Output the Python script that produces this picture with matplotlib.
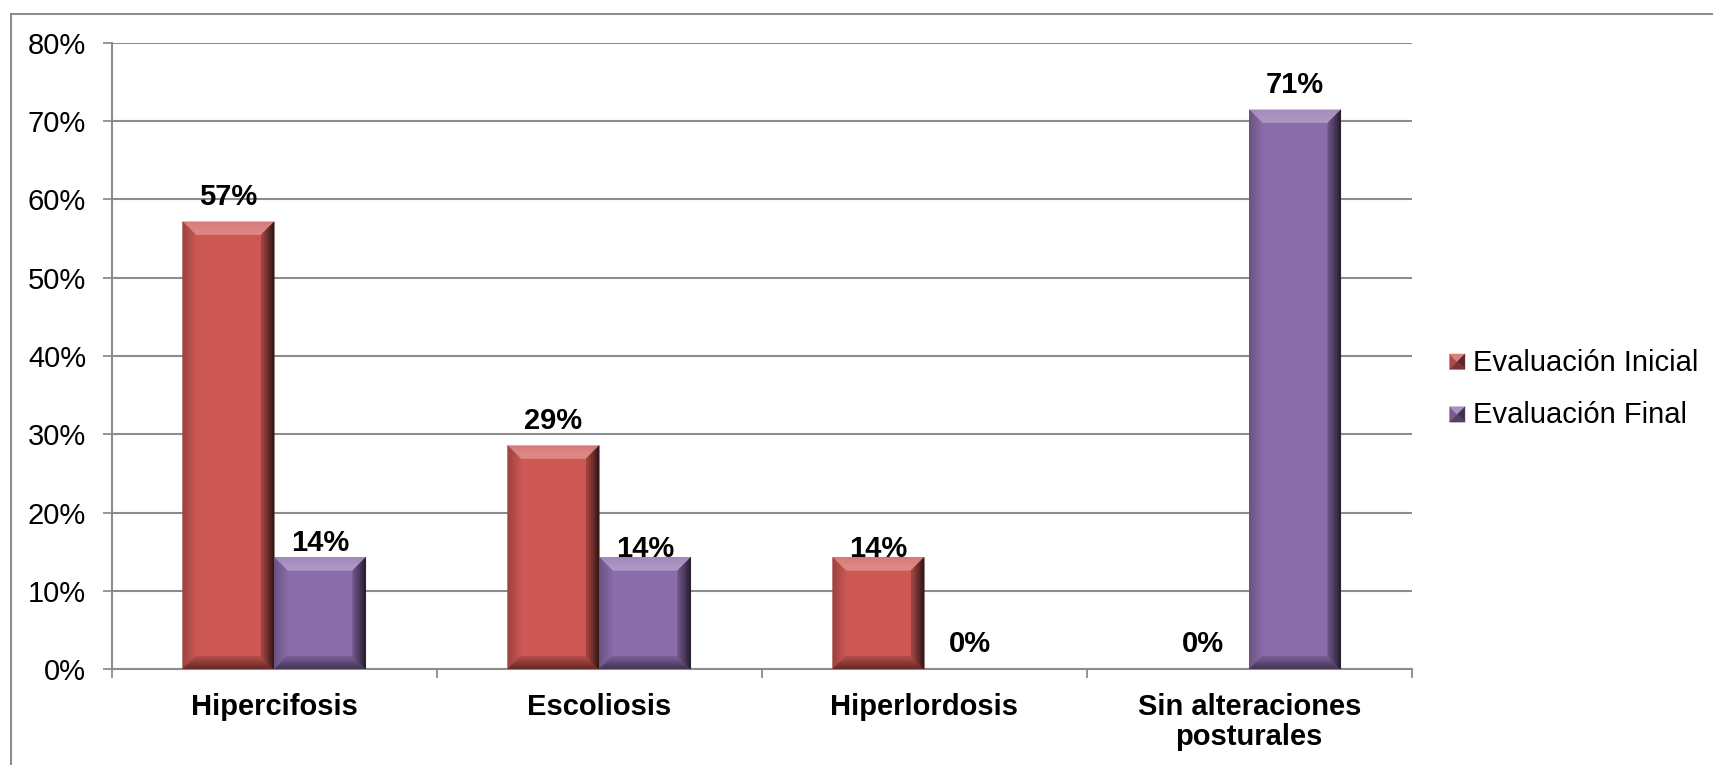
import numpy as np
import matplotlib
matplotlib.use("Agg")
import matplotlib.pyplot as plt
from matplotlib.patches import Polygon, Patch
from matplotlib.lines import Line2D
from matplotlib.legend_handler import HandlerBase
from matplotlib.colors import to_rgb

plt.rcParams['font.family'] = ['Liberation Sans', 'DejaVu Sans']

# datos (porcentaje de alumnos)
categorias = ["Hipercifosis", "Escoliosis", "Hiperlordosis", "Sin alteraciones\nposturales"]
series = ["Evaluación Inicial", "Evaluación Final"]
inicial = [57.14, 28.57, 14.29, 0.0]
final = [14.29, 14.29, 0.0, 71.43]
yticks = [0, 10, 20, 30, 40, 50, 60, 70, 80]

colores = ["#CD5753", "#8A6CAA"]
GRIS = "#8C8C8C"
ANCHO = 0.282       # ancho de cada barra
BISEL = 13          # bisel en pixeles
# separacion en px entre la barra y la linea base de su etiqueta
sep_ini = [17, 17, 0, 17]
sep_fin = [6, 0, 17, 17]

W, H = 1713, 765
fig = plt.figure(figsize=(W / 100, H / 100), dpi=100)
ax = fig.add_axes([111.7 / W, (H - 669.3) / H, 1300 / W, (669.3 - 42.7) / H])
ax.set_xlim(-0.5, 3.5)
ax.set_ylim(0, 80)

BLANCO, NEGRO = (1, 1, 1), (0, 0, 0)


def mezcla(c, otro, t):
    c = np.array(to_rgb(c))
    return tuple(c * (1 - t) + np.array(otro) * t)


def bisel(ax, x0, x1, y1, color):
    """barra con bordes biselados (luz arriba, sombra a la derecha y abajo)"""
    # escala pixel -> datos
    p0 = ax.transData.transform((0, 0))
    p1 = ax.transData.transform((1, 10))
    dx = 1 / (p1[0] - p0[0])
    dy = 10 / (p1[1] - p0[1])
    y0 = 0.0
    b = min(BISEL, (x1 - x0) / dx / 2, (y1 - y0) / dy / 2)
    n = 6
    # (lado, color exterior, color interior)
    lados = [
        ("top", mezcla(color, BLANCO, 0.22), mezcla(color, BLANCO, 0.32)),
        ("left", mezcla(color, NEGRO, 0.25), mezcla(color, NEGRO, 0.02)),
        ("bottom", mezcla(color, NEGRO, 0.55), mezcla(color, NEGRO, 0.12)),
        ("right", mezcla(color, NEGRO, 0.78), mezcla(color, NEGRO, 0.2)),
    ]
    for lado, c_out, c_in in lados:
        for i in range(n):
            d0 = b * i / n
            d1 = b * (i + 1) / n
            t = (i + 0.5) / n
            c = tuple(np.array(c_out) * (1 - t) + np.array(c_in) * t)
            if lado == "top":
                pts = [(x0 + d0 * dx, y1 - d0 * dy), (x1 - d0 * dx, y1 - d0 * dy),
                       (x1 - d1 * dx, y1 - d1 * dy), (x0 + d1 * dx, y1 - d1 * dy)]
            elif lado == "bottom":
                pts = [(x0 + d0 * dx, y0 + d0 * dy), (x1 - d0 * dx, y0 + d0 * dy),
                       (x1 - d1 * dx, y0 + d1 * dy), (x0 + d1 * dx, y0 + d1 * dy)]
            elif lado == "left":
                pts = [(x0 + d0 * dx, y0 + d0 * dy), (x0 + d0 * dx, y1 - d0 * dy),
                       (x0 + d1 * dx, y1 - d1 * dy), (x0 + d1 * dx, y0 + d1 * dy)]
            else:
                pts = [(x1 - d0 * dx, y0 + d0 * dy), (x1 - d0 * dx, y1 - d0 * dy),
                       (x1 - d1 * dx, y1 - d1 * dy), (x1 - d1 * dx, y0 + d1 * dy)]
            ax.add_patch(Polygon(pts, closed=True, facecolor=c, edgecolor=c,
                                 lw=0.3, zorder=4))


class CuadroBiselado(HandlerBase):
    """cuadrito de la leyenda con forma de piramide"""
    def create_artists(self, legend, orig, xd, yd, width, height, fontsize, trans):
        color = orig.get_facecolor()
        s = min(width, height) * 1.05
        x0 = xd * -1 + (width - s) / 2
        y0 = yd * -1 + (height - s) / 2 - 1
        cx, cy = x0 + s / 2, y0 + s / 2
        esquinas = [(x0, y0), (x0, y0 + s), (x0 + s, y0 + s), (x0 + s, y0)]
        tonos = [mezcla(color, NEGRO, 0.15), mezcla(color, BLANCO, 0.25),
                 mezcla(color, NEGRO, 0.55), mezcla(color, NEGRO, 0.4)]
        arts = []
        for i in range(4):
            tri = Polygon([esquinas[i], esquinas[(i + 1) % 4], (cx, cy)], closed=True,
                          facecolor=tonos[i], edgecolor=tonos[i], lw=0.3,
                          transform=trans)
            arts.append(tri)
        return arts


x = np.arange(len(categorias))
for k, (vals, seps) in enumerate([(inicial, sep_ini), (final, sep_fin)]):
    offs = -ANCHO / 2 if k == 0 else ANCHO / 2
    barras = ax.bar(x + offs, vals, ANCHO, color=colores[k], zorder=3, lw=0)
    for xi, v, s, rect in zip(x, vals, seps, barras):
        if v > 0:
            bisel(ax, rect.get_x(), rect.get_x() + rect.get_width(), v, colores[k])
        ax.annotate(f"{round(v)}%", (xi + offs, v), xytext=(0, s * 0.72),
                    textcoords="offset points", ha="center", va="baseline",
                    fontsize=21, fontweight="bold", zorder=2.5)

# rejilla y ejes
ax.set_yticks(yticks)
ax.set_yticklabels([f"{t}%" for t in yticks], fontsize=21)
ax.yaxis.grid(True, color=GRIS, lw=1.5, zorder=0)
ax.set_axisbelow(True)
ax.tick_params(axis="y", length=6.5, width=1.3, color=GRIS, pad=12)

ax.set_xticks(x)
ax.set_xticklabels(categorias, fontsize=21, fontweight="bold", linespacing=1.1)
ax.set_xticks(np.arange(-0.5, 4.0, 1.0), minor=True)
ax.tick_params(axis="x", which="major", length=0, pad=17)
ax.tick_params(axis="x", which="minor", length=6.5, width=1.3, color=GRIS)

for lado in ["top", "right"]:
    ax.spines[lado].set_visible(False)
for lado in ["left", "bottom"]:
    ax.spines[lado].set_color(GRIS)
    ax.spines[lado].set_linewidth(1.5)

# leyenda
manejadores = [Patch(facecolor=c) for c in colores]
fig.legend(manejadores, series, loc="center left", fontsize=21,
           bbox_to_anchor=(1450 / W, 1 - 389 / H), frameon=False,
           handler_map={Patch: CuadroBiselado()},
           handlelength=0.5, handleheight=0.5, handletextpad=0.3,
           labelspacing=0.85, borderpad=0, borderaxespad=0)

# marco del grafico
fig.add_artist(Line2D([11 / W, 11 / W], [0, 1 - 14 / H], color=GRIS, lw=1.5))
fig.add_artist(Line2D([11 / W, 1], [1 - 14 / H, 1 - 14 / H], color=GRIS, lw=1.5))

fig.savefig("out.png", dpi=100)
